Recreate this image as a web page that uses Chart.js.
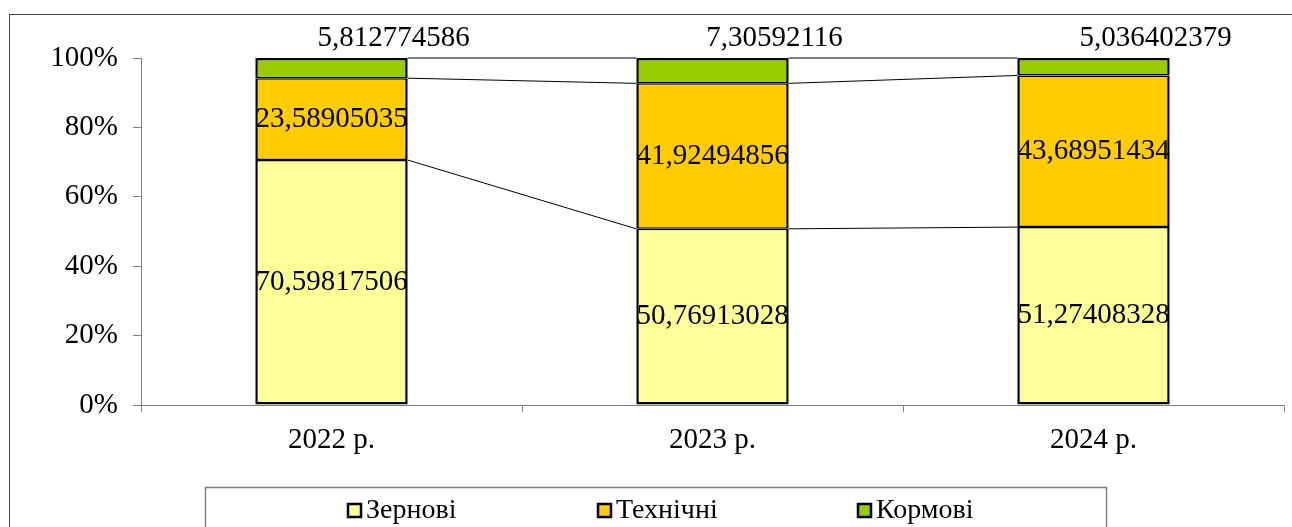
<!DOCTYPE html>
<html>
<head>
<meta charset="utf-8">
<script src="https://cdn.jsdelivr.net/npm/chart.js@4.4.1/dist/chart.umd.min.js"></script>
<style>
  body { margin: 0; background: #fff; }
  canvas { display: block; }
</style>
</head>
<body>
<canvas id="chart" width="1292" height="527"></canvas>
<script>
// chart data
const years = ['2022 р.', '2023 р.', '2024 р.'];
const grain = [70.59817506, 50.76913028, 51.27408328];
const industrial = [23.58905035, 41.92494856, 43.68951434];
const fodder = [5.812774586, 7.30592116, 5.036402379];
const seriesNames = ['Зернові', 'Технічні', 'Кормові'];
const seriesColors = ['#FFFF99', '#FFCC00', '#99CC00'];
const yTicks = [0, 20, 40, 60, 80, 100];

const FONT = "'Liberation Serif', 'Times New Roman', serif";
Chart.defaults.font.family = FONT;
Chart.defaults.font.size = 29;
Chart.defaults.color = '#000';

const fmt = (v) => String(v).replace('.', ',');

// outer frame + legend frame
const framePlugin = {
    id: 'frame',
    beforeDraw(chart) {
        const ctx = chart.ctx;
        ctx.save();
        ctx.fillStyle = '#fff';
        ctx.fillRect(0, 0, chart.width, chart.height);
        ctx.strokeStyle = '#404040';
        ctx.lineWidth = 1;
        ctx.strokeRect(9.5, 14.5, 1400, 700);
        ctx.strokeStyle = '#808080';
        ctx.lineWidth = 1.5;
        ctx.strokeRect(205.5, 487.5, 901, 200);
        ctx.restore();
    }
};

// thin lines joining the segment tops of neighbouring bars
const seriesLinesPlugin = {
    id: 'seriesLines',
    beforeDatasetsDraw(chart) {
        const ctx = chart.ctx;
        ctx.save();
        ctx.strokeStyle = '#000';
        ctx.lineWidth = 1;
        chart.data.datasets.forEach((ds, di) => {
            const bars = chart.getDatasetMeta(di).data;
            for (let i = 0; i < bars.length - 1; i++) {
                const a = bars[i], b = bars[i + 1];
                ctx.beginPath();
                ctx.moveTo(a.x + a.width / 2, a.y);
                ctx.lineTo(b.x - b.width / 2, b.y);
                ctx.stroke();
            }
        });
        ctx.restore();
    }
};

// value labels
const valueLabelsPlugin = {
    id: 'valueLabels',
    afterDatasetsDraw(chart) {
        const ctx = chart.ctx;
        ctx.save();
        ctx.font = '29px ' + FONT;
        ctx.fillStyle = '#000';
        ctx.textAlign = 'center';
        ctx.textBaseline = 'middle';
        const last = chart.data.datasets.length - 1;
        chart.data.datasets.forEach((ds, di) => {
            chart.getDatasetMeta(di).data.forEach((bar, i) => {
                const text = fmt(ds.data[i]);
                if (di === last) {
                    ctx.fillText(text, bar.x + 62, bar.y - 20);
                } else {
                    ctx.fillText(text, bar.x, (bar.y + bar.base) / 2);
                }
            });
        });
        ctx.restore();
    }
};

// legend drawn inside its frame
const legendItemX = [348, 598, 858];
const legendPlugin = {
    id: 'customLegend',
    afterDraw(chart) {
        const ctx = chart.ctx;
        const y = 511;
        ctx.save();
        ctx.font = '28px ' + FONT;
        ctx.textBaseline = 'middle';
        ctx.textAlign = 'left';
        chart.data.datasets.forEach((ds, di) => {
            const x = legendItemX[di];
            ctx.fillStyle = ds.backgroundColor;
            ctx.fillRect(x, y - 7, 13, 13);
            ctx.strokeStyle = '#000';
            ctx.lineWidth = 2.5;
            ctx.strokeRect(x, y - 7, 13, 13);
            ctx.fillStyle = '#000';
            ctx.fillText(ds.label, x + 18, y);
        });
        ctx.restore();
    }
};

// bar edges: thick outside, shared edges drawn once
const borderWidths = [
    { left: 2.5, right: 2.5, bottom: 2.5, top: 1.5 },
    { left: 2.5, right: 2.5, bottom: 1.5, top: 1.5 },
    { left: 2.5, right: 2.5, bottom: 1.5, top: 2.5 }
];

const datasets = [grain, industrial, fodder].map((data, i) => ({
    label: seriesNames[i],
    data: data,
    backgroundColor: seriesColors[i],
    borderColor: '#000',
    borderWidth: borderWidths[i],
    borderSkipped: false,
    barPercentage: 0.4,
    categoryPercentage: 1
}));

new Chart(document.getElementById('chart').getContext('2d'), {
    type: 'bar',
    data: { labels: years, datasets: datasets },
    options: {
        responsive: false,
        animation: false,
        layout: { padding: { top: 58, right: 8, left: 0, bottom: 0 } },
        plugins: {
            legend: { display: false },
            tooltip: { enabled: false }
        },
        scales: {
            x: {
                stacked: true,
                offset: true,
                grid: { offset: true, drawOnChartArea: false, tickLength: 7, color: '#808080' },
                border: { color: '#808080', width: 1 },
                ticks: { padding: 11 },
                afterFit(scale) { scale.height = 122; }
            },
            y: {
                stacked: true,
                min: 0,
                max: 100,
                afterBuildTicks(scale) { scale.ticks = yTicks.map(v => ({ value: v })); },
                grid: { drawOnChartArea: false, tickLength: 8, color: '#808080' },
                border: { color: '#808080', width: 1 },
                ticks: { padding: 15, callback: (v) => v + '%' },
                afterFit(scale) { scale.width = 141; }
            }
        }
    },
    plugins: [framePlugin, seriesLinesPlugin, valueLabelsPlugin, legendPlugin]
});
</script>
</body>
</html>
